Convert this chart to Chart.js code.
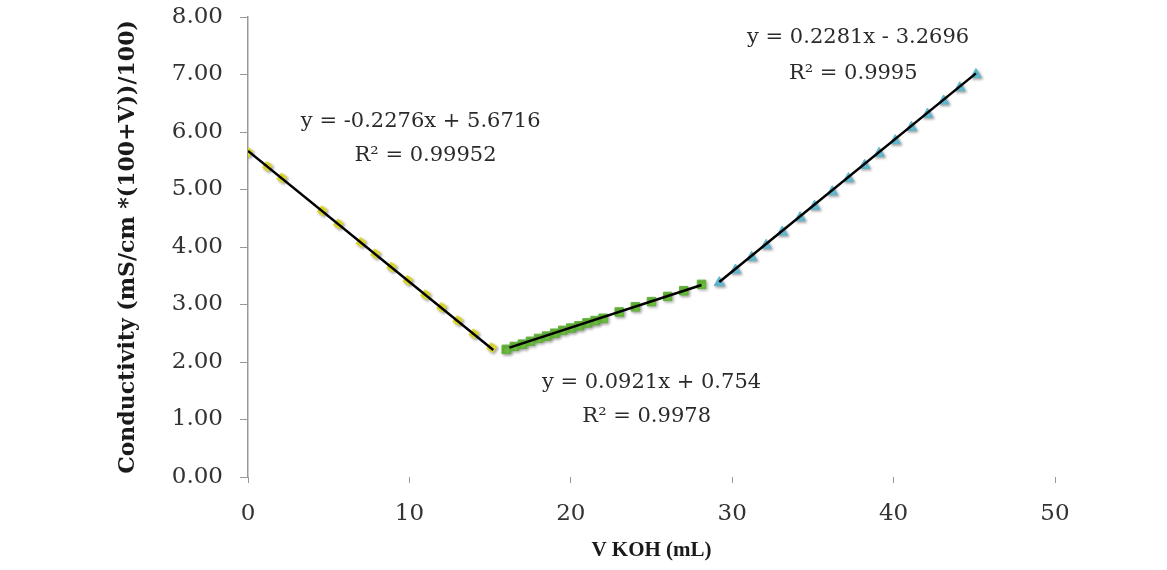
<!DOCTYPE html>
<html>
<head>
<meta charset="utf-8">
<script src="https://cdn.jsdelivr.net/npm/chart.js@4"></script>
<style>
  html, body { margin: 0; padding: 0; background: #fff; }
  #chart-container { width: 1167px; height: 570px; }
</style>
</head>
<body>
<div id="chart-container"><canvas id="c" width="1167" height="570"></canvas></div>
<script>
// volumes (mL) and conductivity
const acidX = [0, 1.2, 2.1, 4.6, 5.6, 7.0, 7.9, 8.9, 9.9, 11.0, 12.0, 13.0, 14.0, 15.1];
const acidY = [5.65, 5.40, 5.20, 4.63, 4.40, 4.08, 3.88, 3.65, 3.42, 3.17, 2.95, 2.72, 2.49, 2.25];

const bufferX = [16, 16.5, 17, 17.5, 18, 18.5, 19, 19.5, 20, 20.5, 21, 21.5, 22, 23, 24, 25, 26, 27, 28.1];
const bufferY = [2.22, 2.27, 2.31, 2.36, 2.41, 2.45, 2.50, 2.55, 2.59, 2.63, 2.68, 2.72, 2.76, 2.87, 2.96, 3.05, 3.14, 3.24, 3.35];

const baseX = [29.2, 30.2, 31.2, 32.1, 33.1, 34.2, 35.1, 36.2, 37.2, 38.2, 39.1, 40.1, 41.1, 42.1, 43.1, 44.1, 45.1];
const baseY = [3.38, 3.60, 3.82, 4.03, 4.26, 4.51, 4.71, 4.96, 5.19, 5.42, 5.63, 5.85, 6.08, 6.31, 6.54, 6.77, 7.00];

// trend line end points
const trendAcid = [[0, 5.67], [15.2, 2.21]];
const trendBuffer = [[16.2, 2.25], [28.1, 3.34]];
const trendBase = [[29.2, 3.39], [45.1, 7.02]];

const eqLabels = [
  { text: "y = -0.2276x + 5.6716", x: 10.7, y: 6.18 },
  { text: "R\u00b2 = 0.99952", x: 11.0, y: 5.59 },
  { text: "y = 0.2281x - 3.2696", x: 37.8, y: 7.65 },
  { text: "R\u00b2 = 0.9995", x: 37.5, y: 7.02 },
  { text: "y = 0.0921x + 0.754", x: 25.0, y: 1.64 },
  { text: "R\u00b2 = 0.9978", x: 24.7, y: 1.06 }
];

const pts = (xs, ys) => xs.map((x, i) => ({ x: x, y: ys[i] }));
const line = (p) => p.map(([x, y]) => ({ x: x, y: y }));

const serif = "'DejaVu Serif', 'Liberation Serif', serif";
const timesLike = "'Liberation Serif', serif";

const eqPlugin = {
  id: "eqText",
  afterDatasetsDraw(chart) {
    const { ctx, scales } = chart;
    ctx.save();
    ctx.font = "21px " + serif;
    ctx.fillStyle = "#2a2a2a";
    ctx.textAlign = "center";
    ctx.textBaseline = "middle";
    eqLabels.forEach((l) => {
      ctx.fillText(l.text, scales.x.getPixelForValue(l.x), scales.y.getPixelForValue(l.y));
    });
    ctx.restore();
  }
};

// soft drop shadow under the markers, like the spreadsheet original
const shadowPlugin = {
  id: "markerShadow",
  beforeDatasetDraw(chart, args) {
    if (args.index > 2) return;
    const ctx = chart.ctx;
    ctx.save();
    ctx.shadowColor = "rgba(0,0,0,0.35)";
    ctx.shadowBlur = 3;
    ctx.shadowOffsetX = 1.5;
    ctx.shadowOffsetY = 1.5;
  },
  afterDatasetDraw(chart, args) {
    if (args.index > 2) return;
    chart.ctx.restore();
  }
};

const trendStyle = {
  type: "line",
  showLine: true,
  borderColor: "#000",
  borderWidth: 2.5,
  pointRadius: 0,
  fill: false,
  order: 0
};

new Chart(document.getElementById("c"), {
  type: "scatter",
  data: {
    datasets: [
      { data: pts(acidX, acidY), pointStyle: "rect", pointRadius: 5, rotation: 35,
        backgroundColor: "rgb(232,228,52)", borderColor: "rgb(220,214,40)", borderWidth: 1, order: 1 },
      { data: pts(bufferX, bufferY), pointStyle: "rect", pointRadius: 6,
        backgroundColor: "rgb(108,190,62)", borderColor: "rgb(95,178,55)", borderWidth: 1, order: 1 },
      { data: pts(baseX, baseY), pointStyle: "triangle", pointRadius: 6,
        backgroundColor: "rgb(104,192,216)", borderColor: "rgb(92,182,206)", borderWidth: 1, order: 1 },
      Object.assign({ data: line(trendAcid) }, trendStyle),
      Object.assign({ data: line(trendBuffer) }, trendStyle),
      Object.assign({ data: line(trendBase) }, trendStyle)
    ]
  },
  options: {
    responsive: false,
    animation: false,
    layout: { padding: { left: 111, top: 17, right: 112, bottom: 0 } },
    plugins: { legend: { display: false }, tooltip: { enabled: false } },
    scales: {
      x: {
        type: "linear",
        min: 0, max: 50,
        border: { display: false },
        grid: { drawOnChartArea: false, drawTicks: true, tickLength: 6, color: "#999" },
        ticks: { stepSize: 10, padding: 17, color: "#333", font: { family: serif, size: 23 } },
        title: { display: true, text: "V KOH (mL)", color: "#1a1a1a", padding: { top: 0, bottom: 7 },
                 font: { family: timesLike, size: 21, weight: "bold" } },
        afterFit(scale) { scale.height = 93; }
      },
      y: {
        min: 0, max: 8,
        border: { display: true, color: "#999", width: 1.5 },
        grid: { drawOnChartArea: false, drawTicks: true, tickLength: 8, color: "#999" },
        ticks: { stepSize: 1, padding: 17, color: "#333", font: { family: serif, size: 23 },
                 callback: (v) => v.toFixed(2) },
        title: { display: true, text: "Conductivity (mS/cm *(100+V))/100)", color: "#1a1a1a",
                 padding: { top: 4, bottom: 0 },
                 font: { family: serif, size: 22, weight: "bold" } },
        afterFit(scale) {
          scale.width = 137;
          scale.paddingTop = 0;
          scale.paddingBottom = 0;
        }
      }
    }
  },
  plugins: [eqPlugin, shadowPlugin]
});
</script>
</body>
</html>
